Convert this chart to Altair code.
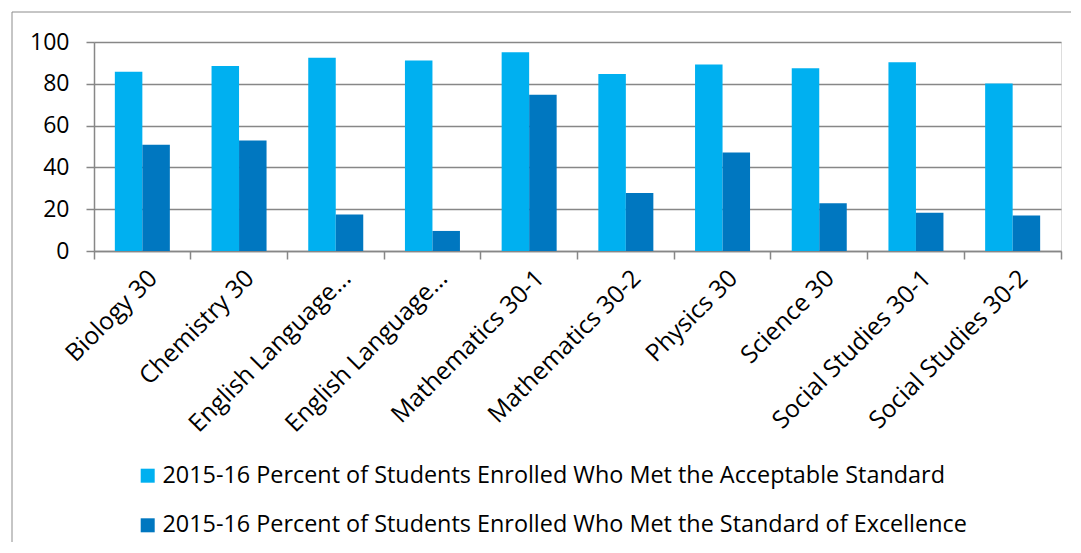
import altair as alt
import pandas as pd

courses = [
    "Biology 30", "Chemistry 30", "English Language Arts 30-1",
    "English Language Arts 30-2", "Mathematics 30-1", "Mathematics 30-2",
    "Physics 30", "Science 30", "Social Studies 30-1", "Social Studies 30-2",
]
series = [
    "2015-16 Percent of Students Enrolled Who Met the Acceptable Standard",
    "2015-16 Percent of Students Enrolled Who Met the Standard of Excellence",
]
acceptable = [85.8, 88.5, 92.5, 91.2, 95.1, 84.7, 89.2, 87.4, 90.3, 80.1]
excellence = [50.8, 52.9, 17.5, 9.6, 74.8, 27.7, 47.1, 22.8, 18.3, 17.0]
colors = ["#00B0F0", "#0077C0"]
y_ticks = [0, 20, 40, 60, 80, 100]

rows = []
for c, a, e in zip(courses, acceptable, excellence):
    rows.append({"Course": c, "Series": series[0], "Value": a})
    rows.append({"Course": c, "Series": series[1], "Value": e})
df = pd.DataFrame(rows)

FONT = "Open Sans"
GRID = "#878787"

bars = alt.Chart(df).mark_bar().encode(
    x=alt.X(
        "Course:N", sort=courses, title=None,
        scale=alt.Scale(paddingInner=0, paddingOuter=0),
        axis=alt.Axis(
            labelAngle=-45, labelFontSize=24.5, labelFont=FONT, labelColor="#000000",
            labelLimit=400, labelPadding=7, labelOffset=3,
            labelExpr="length(datum.label) > 20 ? substring(datum.label, 0, 16) + '...' : datum.label",
            ticks=True, tickSize=8, tickColor=GRID, tickWidth=1.5,
            bandPosition=1, tickExtra=True,
            domainColor=GRID, domainWidth=1.5, grid=False,
        ),
    ),
    xOffset=alt.XOffset(
        "Series:N", sort=series,
        scale=alt.Scale(paddingInner=0, paddingOuter=0.758),
    ),
    y=alt.Y(
        "Value:Q", title=None,
        scale=alt.Scale(domain=[0, 100], nice=False),
        axis=alt.Axis(
            values=y_ticks, labelFontSize=23, labelFont=FONT, labelColor="#000000",
            labelPadding=17, tickSize=8, tickColor=GRID, tickWidth=1.5,
            domainColor=GRID, domainWidth=1.5,
            grid=True, gridColor=GRID, gridWidth=1.5,
        ),
    ),
    color=alt.Color(
        "Series:N", sort=series,
        scale=alt.Scale(domain=series, range=colors),
        legend=alt.Legend(
            title=None, orient="none", legendX=42, legendY=422, padding=0,
            direction="vertical", symbolType="square", symbolSize=196,
            symbolStrokeWidth=0, labelFont=FONT, labelFontSize=23.4,
            labelColor="#000000", labelLimit=1000, labelOffset=3,
            rowPadding=24.6,
        ),
    ),
)

frame_df = pd.DataFrame({"k": [0]})
left_line = alt.Chart(frame_df).mark_rule(color="#8c8c8c", strokeWidth=1).encode(
    x=alt.value(-82), y=alt.value(-30), y2=alt.value(500)
)
top_line = alt.Chart(frame_df).mark_rule(color="#8c8c8c", strokeWidth=1).encode(
    x=alt.value(-82), x2=alt.value(977), y=alt.value(-30)
)

chart = alt.layer(bars, left_line, top_line).properties(
    width=967, height=209,
    padding={"left": 3, "top": 3, "right": 0, "bottom": 0},
).configure_view(stroke=None).configure(background="#ffffff")

chart.save("out.html", embed_options={"renderer": "svg", "actions": False})
